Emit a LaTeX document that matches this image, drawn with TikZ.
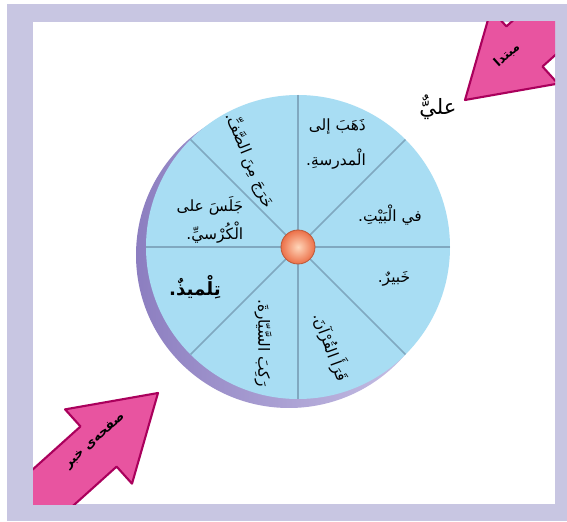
\documentclass[tikz,border=0pt]{standalone}
\usepackage{fontspec}
\newfontfamily\arabicfont[Script=Arabic]{DejaVu Sans}
\TeXXeTstate=1
\usetikzlibrary{shapes,arrows,positioning}
\definecolor{framelav}{RGB}{200,198,226}
\definecolor{wheelblue}{RGB}{168,221,243}
\definecolor{spokeblue}{RGB}{128,168,192}
\definecolor{rimdark}{RGB}{140,126,192}
\definecolor{rimlight}{RGB}{204,198,232}
\definecolor{balllight}{RGB}{255,214,186}
\definecolor{ballorange}{RGB}{236,112,72}
\definecolor{arrowpink}{RGB}{232,84,160}
\definecolor{arrowdark}{RGB}{170,0,92}
\tikzset{
  seg/.style={font=\arabicfont\fontsize{11}{20}\selectfont, inner sep=1pt},
  spoke/.style={draw=spokeblue, line width=1.1pt},
  bigarrow/.style={fill=arrowpink, draw=arrowdark, line width=1.5pt, line join=round},
  tag/.style={font=\arabicfont\bfseries\fontsize{9}{10}\selectfont, inner sep=1pt}
}

\begin{document}
\begin{tikzpicture}[x=0.025cm,y=0.025cm]
    \useasboundingbox (0,0) rectangle (567,521);
    % frame
    \fill[framelav] (7,0) rectangle (567,517);
    \fill[white] (33,17) rectangle (555,499);
    %%
    % wheel
    \coordinate (hub) at (298,274);
    \shade[left color=rimdark, right color=rimlight] (289,266) circle (153);
    \fill[wheelblue] (hub) circle (152);
    \draw[spoke] (hub) ++(90:152) -- ++(270:304);
    \draw[spoke] (hub) ++(0:152) -- ++(180:304);
    \draw[spoke] (hub) ++(45:152) -- ++(225:304);
    \draw[spoke] (hub) ++(135:152) -- ++(315:304);
    \shade[inner color=balllight, outer color=ballorange] (hub) circle (17);
    \draw[ballorange!80!black, line width=0.6pt] (hub) circle (17);
    %%
    \node[seg, align=right] (went) at (336,377)
        {\beginR ذَهَبَ إلى\endR\\[5pt]\beginR الْمدرسةِ.\endR};
    \node[seg] (home) at (390,306) {\beginR في الْبَيْتِ.\endR};
    \node[seg] (expert) at (394,242) {\beginR خَبيرٌ.\endR};
    \node[seg, rotate=-70] (read) at (332,174) {\beginR قَرَأَ القُرْآنَ.\endR};
    \node[seg, rotate=-90] (rode) at (263,178) {\beginR رَكِبَ السَّيّارةَ.\endR};
    \node[seg, font=\arabicfont\bfseries\fontsize{13}{15}\selectfont] (pupil) at (195,234)
        {\beginR تِلْميذٌ.\endR};
    \node[seg, align=right] (sat) at (210,301)
        {\beginR جَلَسَ على\endR\\\beginR الْكُرْسيِّ.\endR};
    \node[seg, rotate=-68] (left) at (250,361) {\beginR خَرَجَ مِنَ الصَّفِّ.\endR};
    \node[seg, font=\arabicfont\fontsize{15}{17}\selectfont] (ali) at (438,414)
        {\beginR عليٌّ\endR};
    %%
    % arrows
    \begin{scope}
    \clip (33,17) rectangle (555,499);
    \begin{scope}[shift={(465,421)}, rotate=222]
        \draw[bigarrow] (0,0) -- (-80,50) -- (-80,27) -- (-220,27)
            -- (-220,-27) -- (-80,-27) -- (-80,-50) -- cycle;
    \end{scope}
    \begin{scope}[shift={(158,128)}, rotate=42]
        \draw[bigarrow] (0,0) -- (-80,50) -- (-80,27) -- (-220,27)
            -- (-220,-27) -- (-80,-27) -- (-80,-50) -- cycle;
    \end{scope}
    \end{scope}
    \node[tag, rotate=42] (subj) at (507,466) {\beginR مبتدا\endR};
    \node[tag, rotate=42] (pred) at (95,80) {\beginR صفحه‌ی خبر\endR};
\end{tikzpicture}
\end{document}
